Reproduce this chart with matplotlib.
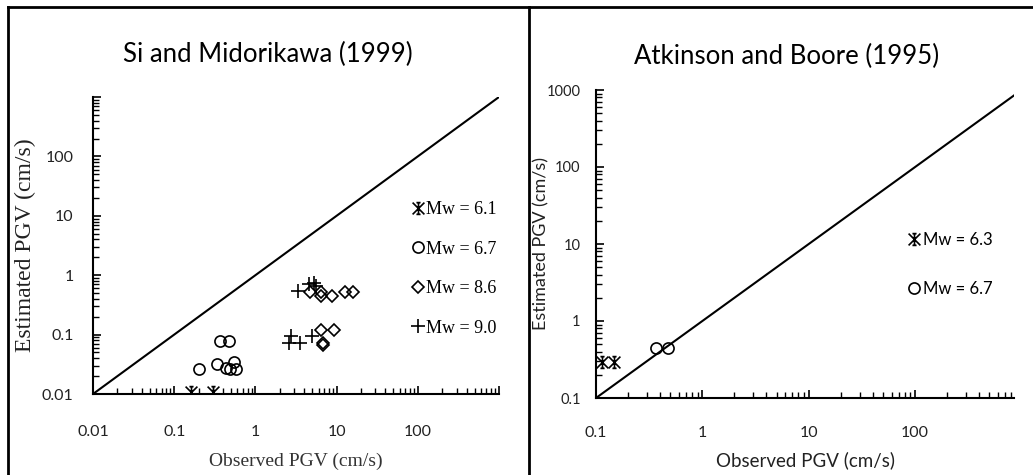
import numpy as np
import matplotlib
matplotlib.use("Agg")
import matplotlib.pyplot as plt
from matplotlib.lines import Line2D
from matplotlib.path import Path

# Si and Midorikawa (1999) panel
si_61_obs = [0.161, 0.30]
si_61_est = [0.011, 0.011]
si_67_obs = [0.204, 0.368, 0.47, 0.334, 0.437, 0.48, 0.543, 0.58]
si_67_est = [0.026, 0.078, 0.078, 0.032, 0.027, 0.026, 0.034, 0.026]
si_86_obs = [4.74, 6.44, 6.5, 8.8, 12.6, 15.7, 6.5, 9.3, 6.76, 6.76]
si_86_est = [0.52, 0.52, 0.44, 0.44, 0.52, 0.52, 0.12, 0.12, 0.072, 0.068]
si_90_obs = [3.3, 4.6, 5.3, 5.6, 2.6, 2.75, 3.55, 5.0]
si_90_est = [0.55, 0.70, 0.75, 0.65, 0.072, 0.096, 0.073, 0.096]

# Atkinson and Boore (1995) panel
ab_63_obs = [0.113, 0.148]
ab_63_est = [0.295, 0.295]
ab_67_obs = [0.368, 0.474]
ab_67_est = [0.45, 0.44]

W, H = 1033, 475
fig = plt.figure(figsize=(W / 100, H / 100), dpi=100)

def box(x0, y0, x1, y1):
    return [x0 / W, 1 - y1 / H, (x1 - x0) / W, (y1 - y0) / H]

sans = "Lato"
serif = "Liberation Serif"

# excel style asterisk: X with a vertical stroke and short end bars
M, L = Path.MOVETO, Path.LINETO
star = Path([(-1, -1), (1, 1), (-1, 1), (1, -1), (0, -1), (0, 1),
             (-0.35, 1), (0.35, 1), (-0.35, -1), (0.35, -1)],
            [M, L, M, L, M, L, M, L, M, L])

def style(ax):
    for s in ["top", "right"]:
        ax.spines[s].set_visible(False)
    for s in ["left", "bottom"]:
        ax.spines[s].set_linewidth(1.5)
    ax.tick_params(which="major", direction="in", length=6, width=1.2)
    ax.tick_params(which="minor", direction="in", length=4, width=1.0)
    ax.set_xscale("log")
    ax.set_yscale("log")

def labels(ticks, shown):
    return [(f"{t:g}" if t in shown else "") for t in ticks]

# ---- left panel
ax1 = fig.add_axes(box(93, 97, 499, 394))
style(ax1)
ax1.set_xlim(0.01, 1000)
ax1.set_ylim(0.01, 1000)
ax1.plot([0.01, 1000], [0.01, 1000], color="black", lw=1.5)
mk = dict(ls="none", color="black", mfc="none", mec="black", mew=1.2)
ax1.plot(si_61_obs, si_61_est, marker=star, ms=8.5, label="Mw = 6.1", **mk)
ax1.plot(si_67_obs, si_67_est, marker="o", ms=8, label="Mw = 6.7", **mk)
ax1.plot(si_86_obs, si_86_est, marker="D", ms=6.5, label="Mw = 8.6", **mk)
ax1.plot(si_90_obs, si_90_est, marker="+", ms=10, label="Mw = 9.0", **mk)
t1 = [0.01, 0.1, 1, 10, 100, 1000]
ax1.set_xticks(t1)
ax1.set_xticklabels(labels(t1, [0.01, 0.1, 1, 10, 100]), family=sans, fontsize=11.5, color="#222222")
ax1.set_yticks(t1)
ax1.set_yticklabels(labels(t1, [0.01, 0.1, 1, 10, 100]), family=sans, fontsize=11.5, color="#222222")
ax1.tick_params(axis="x", pad=22)
ax1.tick_params(axis="y", pad=14)
ax1.set_xlabel("Observed PGV (cm/s)", family=serif, fontsize=14, color="#333333", labelpad=10)
ax1.set_ylabel("Estimated PGV (cm/s)", family=serif, fontsize=17, color="#222222", labelpad=4)
ax1.set_title("Si and Midorikawa (1999)", family=sans, fontsize=18.5, pad=25, x=0.43)
ax1.legend(loc="upper left", bbox_to_anchor=(0.765, 0.68), frameon=False,
           prop={"family": serif, "size": 13}, handlelength=0.6, handletextpad=0.15,
           labelspacing=1.25, borderpad=0)

# ---- right panel
ax2 = fig.add_axes(box(596, 90, 1014, 398))
style(ax2)
ax2.set_xlim(0.1, 850)
ax2.set_ylim(0.1, 1000)
ax2.plot([0.1, 850], [0.1, 850], color="black", lw=1.5)
ax2.plot(ab_63_obs, ab_63_est, marker=star, ms=8.5, label="Mw = 6.3", **mk)
ax2.plot(ab_67_obs, ab_67_est, marker="o", ms=8, label="Mw = 6.7", **mk)
t2 = [0.1, 1, 10, 100]
ax2.set_xticks(t2)
ax2.set_xticklabels(labels(t2, t2), family=sans, fontsize=11.5, color="#222222")
t2y = [0.1, 1, 10, 100, 1000]
ax2.set_yticks(t2y)
ax2.set_yticklabels(labels(t2y, t2y), family=sans, fontsize=10.5, color="#222222")
ax2.tick_params(axis="x", pad=20)
ax2.tick_params(axis="y", pad=11)
ax2.set_xlabel("Observed PGV (cm/s)", family=sans, fontsize=13.5, color="#222222", labelpad=8)
ax2.set_ylabel("Estimated PGV (cm/s)", family=sans, fontsize=13, color="#222222")
ax2.yaxis.set_label_coords(-0.112, 0.5)
ax2.set_title("Atkinson and Boore (1995)", family=sans, fontsize=18.5, pad=19, x=0.455)
ax2.legend(loc="upper left", bbox_to_anchor=(0.73, 0.565), frameon=False,
           prop={"family": sans, "size": 12}, handlelength=0.6, handletextpad=0.2,
           labelspacing=1.95, borderpad=0)

# frame around the panels
for xs, ys in [([8, W], [7, 7]), ([8, 8], [7, H]), ([529, 529], [7, H])]:
    fig.add_artist(Line2D([x / W for x in xs], [1 - y / H for y in ys],
                          color="black", lw=2, transform=fig.transFigure))

fig.savefig("out.png", dpi=100)
